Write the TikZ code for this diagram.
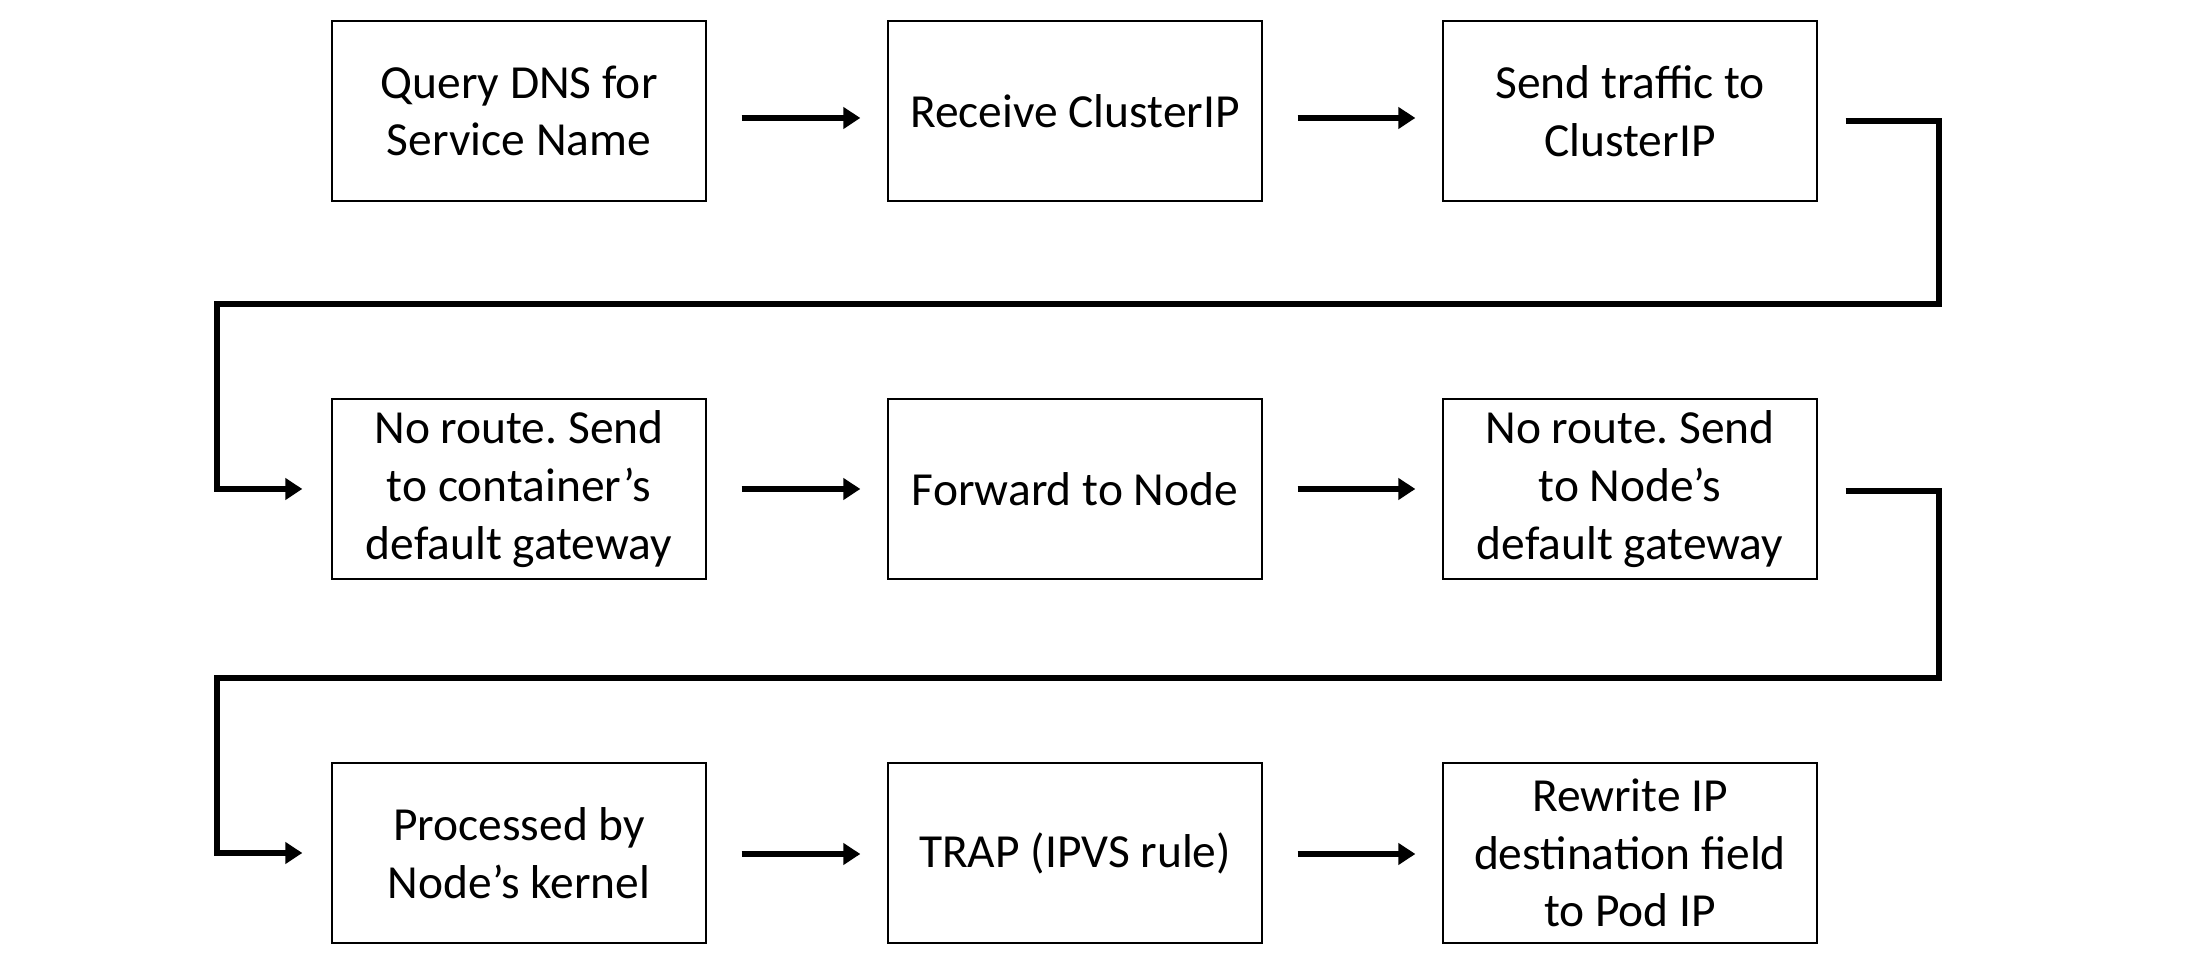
\documentclass[tikz,border=0pt]{standalone}
\usepackage{fontspec}
\setmainfont{Carlito}
\frenchspacing
\usetikzlibrary{arrows.meta,calc}

\begin{document}
\begin{tikzpicture}[x=0.01cm,y=-0.01cm,
  stepbox/.style={draw,line width=0.6pt,minimum width=3.73cm,minimum height=1.80cm,
    inner sep=0pt,align=center,font=\fontsize{13.5}{16.4}\selectfont},
  flow/.style={line width=1.7pt,-{Triangle[length=1.7mm,width=2.1mm]}}]
\useasboundingbox (0,0) rectangle (2188,962);

% first row
\node[stepbox] (dns) at (519,111) {Query DNS for\\Service Name};
\node[stepbox] (clusterip) at (1075,111) {Receive ClusterIP};
\node[stepbox] (send) at (1630,111) {Send traffic to\\ClusterIP};

% second row
\node[stepbox] (gw1) at (519,489) {No route. Send\\to container’s\\default gateway};
\node[stepbox] (fwd) at (1075,489) {Forward to Node};
\node[stepbox] (gw2) at (1630,489) {No route. Send\\to Node’s\\default gateway};

% third row
\node[stepbox] (kernel) at (519,853) {Processed by\\Node’s kernel};
\node[stepbox] (trap) at (1075,853) {TRAP (IPVS rule)};
\node[stepbox] (rewrite) at (1630,853) {Rewrite IP\\destination field\\to Pod IP};

\draw[flow] ($(dns.east)+(35,7)$) -- ($(clusterip.west)+(-27,7)$);
\draw[flow] ($(clusterip.east)+(35,7)$) -- ($(send.west)+(-27,7)$);
\draw[flow] ($(send.east)+(28,10)$) -| (1939,304) -| ($(gw1.west)+(-114,0)$) -- ($(gw1.west)+(-29,0)$);

\draw[flow] ($(gw1.east)+(35,0)$) -- ($(fwd.west)+(-27,0)$);
\draw[flow] ($(fwd.east)+(35,0)$) -- ($(gw2.west)+(-27,0)$);
\draw[flow] ($(gw2.east)+(28,2)$) -| (1939,678) -| ($(kernel.west)+(-114,0)$) -- ($(kernel.west)+(-29,0)$);

\draw[flow] ($(kernel.east)+(35,1)$) -- ($(trap.west)+(-27,1)$);
\draw[flow] ($(trap.east)+(35,1)$) -- ($(rewrite.west)+(-27,1)$);
\end{tikzpicture}
\end{document}
